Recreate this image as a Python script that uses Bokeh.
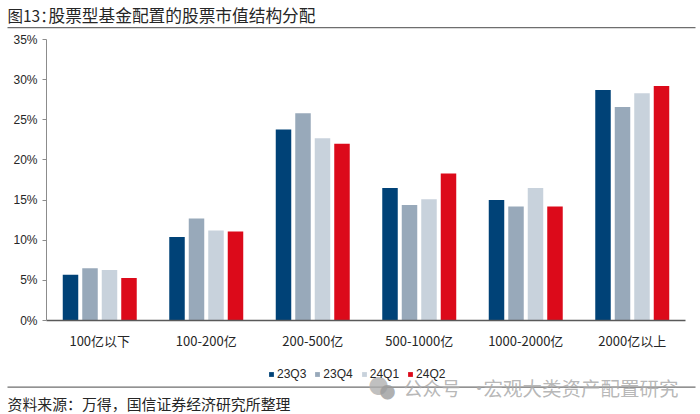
from bokeh.plotting import figure
from bokeh.embed import file_html
from bokeh.resources import INLINE
from bokeh.models import Range1d, FixedTicker, PrintfTickFormatter, Label, Legend, LegendItem, LinearAxis, BoxAnnotation
from bokeh.transform import dodge

categories = ["100亿以下", "100-200亿", "200-500亿", "500-1000亿", "1000-2000亿", "2000亿以上"]
s23q3 = [5.7, 10.4, 23.8, 16.5, 15.0, 28.7]
s23q4 = [6.5, 12.7, 25.8, 14.4, 14.2, 26.6]
s24q1 = [6.3, 11.2, 22.7, 15.1, 16.5, 28.3]
s24q2 = [5.3, 11.1, 22.0, 18.3, 14.2, 29.2]
series = [("23Q3", s23q3, "#004277", -0.2746), ("23Q4", s23q4, "#98A9BA", -0.0915),
          ("24Q1", s24q1, "#C8D2DC", 0.0915), ("24Q2", s24q2, "#DC0A1A", 0.2746)]
yticks = [0, 5, 10, 15, 20, 25, 30, 35]

W, H = 700, 414
L, R, T, B = 46, 685, 39, 320   # plot area in page pixels
CJK = "Noto Sans CJK SC"
NUM = "Liberation Sans"
n = len(categories)
pxx = (R - L) / n
pxy = (B - T) / 35
idx = list(range(n))

p = figure(width=W, height=H, output_backend="svg", toolbar_location=None,
           x_range=Range1d(-0.5 - L / pxx, -0.5 + (W - L) / pxx),
           y_range=Range1d(-(H - B) / pxy, 35 + T / pxy),
           x_axis_type=None, y_axis_type=None,
           min_border=0, background_fill_color="white", border_fill_color="white", outline_line_color=None)
p.xgrid.visible = False
p.ygrid.visible = False

items = []
for name, vals, col, off in series:
    r = p.vbar(x=dodge("c", off), top="v", width=0.1455, bottom=0,
               source={"c": idx, "v": vals}, fill_color=col, line_color=None)
    items.append(LegendItem(label=name, renderers=[r]))

yaxis = LinearAxis(fixed_location=-0.5, bounds=(0, 35), ticker=FixedTicker(ticks=yticks),
                   formatter=PrintfTickFormatter(format="%d%%"),
                   axis_line_color="#8C8C8C", major_tick_line_color="#8C8C8C",
                   major_tick_in=0, major_tick_out=4, minor_tick_line_color=None,
                   major_label_text_font=NUM, major_label_text_font_size="12px",
                   major_label_text_color="#262626", major_label_standoff=5)
p.add_layout(yaxis, "left")

xaxis = LinearAxis(fixed_location=0, bounds=(-0.5, n - 0.5), ticker=FixedTicker(ticks=idx),
                   major_label_overrides=dict(zip(idx, categories)),
                   axis_line_color="#595959", axis_line_width=1.3,
                   major_tick_line_color=None, minor_tick_line_color=None,
                   major_label_text_font=CJK, major_label_text_font_size="13px",
                   major_label_text_color="#262626", major_label_standoff=4)
p.add_layout(xaxis, "below")

legend = Legend(items=items, orientation="horizontal", location=(268, H - 381),
                background_fill_alpha=0, border_line_color=None,
                glyph_width=6, glyph_height=6, label_text_font=NUM, label_text_font_size="12px",
                label_text_color="#262626", spacing=8, padding=0, margin=0, label_standoff=3,
                label_height=14, label_text_line_height=1.0)
p.add_layout(legend, "center")

def rule(y, color, th=1.3):
    p.add_layout(BoxAnnotation(left=7, right=695, top=H - y, bottom=H - y - th,
                               left_units="screen", right_units="screen", top_units="screen", bottom_units="screen",
                               fill_color=color, fill_alpha=1, line_color=None))

rule(26.5, "#6E6E6E")
rule(386, "#6E6E6E")

def txt(x, y, s, size, color="#262626", font=CJK, alpha=1.0):
    p.add_layout(Label(x=x, y=H - y, x_units="screen", y_units="screen", text=s, text_font=font,
                       text_font_size=size, text_color=color, text_alpha=alpha, text_baseline="middle"))

txt(7, 14, "图13\uff1a", "15.5px")
txt(48, 14, "股票型基金配置的股票市值结构分配", "16.7px")
txt(7, 403, "资料来源\uff1a万得\uff0c国信证券经济研究所整理", "14.9px")
txt(368, 385, "●", "20px", "#AFAFAF", CJK, 0.8)
txt(379, 390, "●", "16px", "#9A9A9A", CJK, 0.8)
txt(403, 387, "公众号", "19px", "#ABABAB", CJK, 0.85)
txt(469, 387, "·", "19px", "#ABABAB", CJK, 0.85)
txt(483, 387, "宏观大类资产配置研究", "19.5px", "#ABABAB", CJK, 0.85)

open("out.html", "w").write(file_html(p, INLINE))
